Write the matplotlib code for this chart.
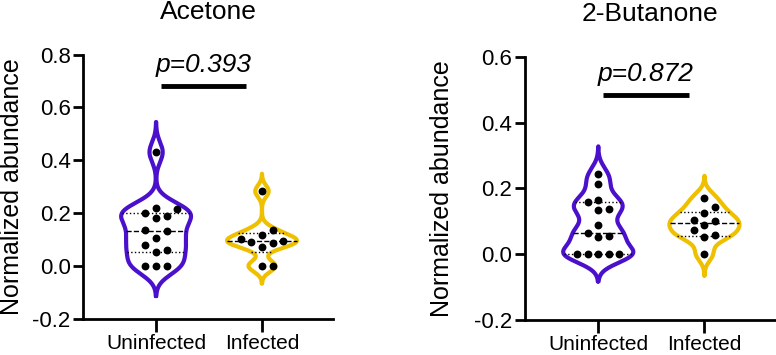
import numpy as np
import matplotlib
matplotlib.use('Agg')
import matplotlib.pyplot as plt

plt.rcParams['font.family'] = ['Liberation Sans', 'DejaVu Sans']
plt.rcParams['axes.unicode_minus'] = False

PURPLE = '#4B10CC'
YELLOW = '#EEC000'

groups = ['Uninfected', 'Infected']

# Acetone
acetone_uninf = [0.431, 0.221, 0.214, 0.201, 0.191, 0.180, 0.138, 0.133,
                 0.107, 0.079, 0.062, 0.054, 0.0, 0.0, 0.0]
acetone_inf = [0.283, 0.136, 0.119, 0.101, 0.096, 0.092, 0.087, 0.072, 0.0, 0.0]
acetone_p = 'p=0.393'

# 2-Butanone
butanone_uninf = [0.244, 0.212, 0.163, 0.157, 0.136, 0.134, 0.089, 0.063,
                  0.056, 0.052, 0.0, 0.0, 0.0, 0.0, 0.0]
butanone_inf = [0.172, 0.144, 0.124, 0.104, 0.100, 0.088, 0.072, 0.057, 0.052, 0.0]
butanone_p = 'p=0.872'


def kde(vals, grid, bw):
    vals = np.asarray(vals)
    return np.exp(-0.5 * ((grid[:, None] - vals[None, :]) / bw) ** 2).sum(axis=1)


def draw_violin(ax, pos, vals, bw, color, half_max=0.33):
    vals = np.asarray(vals)
    ys = np.linspace(vals.min() - 3 * bw, vals.max() + 3 * bw, 400)
    dens = kde(vals, ys, bw)
    half = dens / dens.max() * half_max
    xs = np.concatenate([pos - half, (pos + half)[::-1], [pos - half[0]]])
    yy = np.concatenate([ys, ys[::-1], [ys[0]]])
    ax.plot(xs, yy, color=color, lw=3, solid_joinstyle='round',
            solid_capstyle='round', zorder=2)
    q1, med, q3 = np.percentile(vals, [25, 50, 75], method='weibull')
    for q, ls in ((q1, ':'), (med, '--'), (q3, ':')):
        w = np.interp(q, ys, half)
        ax.plot([pos - w, pos + w], [q, q], color='black', lw=1, ls=ls, zorder=2)


def swarm(ax, pos, vals, d=9.5, step=10.6):
    # greedy placement in pixel space
    to_px = ax.transData
    placed = []
    order = np.argsort(vals)
    out = np.zeros(len(vals))
    x0, _ = to_px.transform((pos, 0))
    cands = [0]
    for j in range(1, 8):
        cands += [j * step, -j * step]
    for i in order:
        _, py = to_px.transform((pos, vals[i]))
        for c in cands:
            if all((c - px) ** 2 + (py - qy) ** 2 >= d ** 2 for px, qy in placed):
                placed.append((c, py))
                out[i] = c
                break
    inv = ax.transData.inverted()
    res = [inv.transform((x0 + o, 0))[0] for o in out]
    ax.scatter(res, vals, s=32, color='black', zorder=3, linewidths=0)


def style_axes(ax, ylim, yticks, title, p_text, bar_y, text_y):
    ax.set_xlim(-0.69, 1.67)
    ax.set_ylim(*ylim)
    ax.set_yticks(yticks)
    ax.set_yticklabels(['%.1f' % t for t in yticks], fontsize=16)
    ax.set_xticks([0, 1])
    ax.set_xticklabels(groups, fontsize=15)
    for s in ('top', 'right'):
        ax.spines[s].set_visible(False)
    for s in ('left', 'bottom'):
        ax.spines[s].set_linewidth(2)
    ax.tick_params(axis='y', length=7, width=2, pad=2)
    ax.tick_params(axis='x', length=9, width=2, pad=2)
    ax.set_ylabel('Normalized abundance', fontsize=18)
    ax.set_title(title, fontsize=19, pad=26)
    ax.plot([0.047, 0.85], [bar_y, bar_y], color='black', lw=3.5,
            solid_capstyle='butt', clip_on=False)
    ax.text(0.45, text_y, p_text, style='italic', fontsize=19,
            ha='center', va='baseline')


fig = plt.figure(figsize=(7.76, 3.55), dpi=100)
ax1 = fig.add_axes([0.107, 0.102, 0.322, 0.744])
ax2 = fig.add_axes([0.6765, 0.100, 0.323, 0.739])

style_axes(ax1, (-0.2, 0.8), [-0.2, 0.0, 0.2, 0.4, 0.6, 0.8], 'Acetone',
           acetone_p, 0.683, 0.735)
style_axes(ax2, (-0.2, 0.6), [-0.2, 0.0, 0.2, 0.4, 0.6], '2-Butanone',
           butanone_p, 0.485, 0.527)
ax1.yaxis.set_label_coords(-0.235, 0.5)
ax2.yaxis.set_label_coords(-0.285, 0.5)

draw_violin(ax1, 0, acetone_uninf, 0.038, PURPLE)
draw_violin(ax1, 1, acetone_inf, 0.022, YELLOW)
draw_violin(ax2, 0, butanone_uninf, 0.028, PURPLE)
draw_violin(ax2, 1, butanone_inf, 0.022, YELLOW)

swarm(ax1, 0, np.array(acetone_uninf))
swarm(ax1, 1, np.array(acetone_inf))
swarm(ax2, 0, np.array(butanone_uninf))
swarm(ax2, 1, np.array(butanone_inf))

fig.savefig('out.png', dpi=100)
